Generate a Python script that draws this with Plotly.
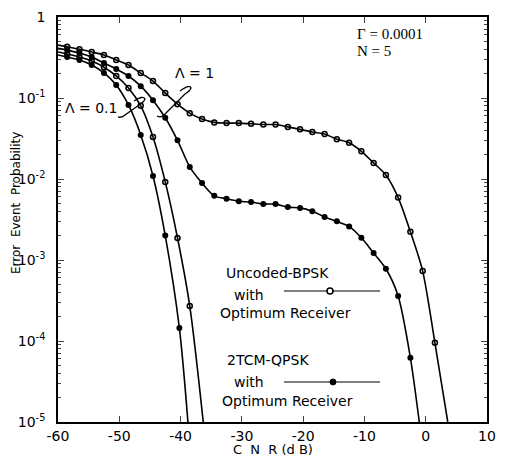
import plotly.graph_objects as go

# ---- data ----
xA = [-58.5,-56.5,-54.5,-52.5,-50.5,-48.5,-46.5,-44.5,-42.5,-40.5,-38.5,-36.5,-34.5,-32.5,-30.5,
      -28.5,-26.5,-24.5,-22.5,-20.5,-18.5,-16.5,-14.5,-12.5,-10.5,-8.5,-6.5,-4.5,-2.5,-0.5,1.5]
yA = [0.43,0.40,0.37,0.34,0.295,0.255,0.203,0.162,0.115,0.084,0.065,0.055,0.050,0.049,0.049,
      0.048,0.047,0.047,0.044,0.041,0.038,0.036,0.031,0.028,0.022,0.0158,0.0112,0.0059,0.00223,0.00073,9.5e-5]
lineA_x = [-60] + xA + [3.6]
lineA_y = [0.45] + yA + [1e-5]

xB = [-58.5,-56.5,-54.5,-52.5,-50.5,-48.5,-46.5,-44.5,-42.5,-40.5,-38.5,-36.5,-34.5,-32.5,-30.5,
      -28.5,-26.5,-24.5,-22.5,-20.5,-18.5,-16.5,-14.5,-12.5,-10.5,-8.5,-6.5,-4.5,-2.5]
yB = [0.39,0.36,0.32,0.27,0.228,0.187,0.14,0.094,0.057,0.030,0.0141,0.0089,0.0062,0.0057,0.0053,
      0.0052,0.0049,0.0049,0.0045,0.0044,0.0040,0.0034,0.0030,0.0026,0.00188,0.00122,0.00078,0.00036,6.2e-5]
lineB_x = [-60] + xB + [-1.05]
lineB_y = [0.41] + yB + [1e-5]

xC = [-58.5,-56.5,-54.5,-52.5,-50.5,-48.5,-46.5,-44.5,-42.5,-40.5,-38.5]
yC = [0.35,0.32,0.286,0.24,0.187,0.133,0.080,0.033,0.0092,0.00187,2.7e-4]
lineC_x = [-60] + xC + [-36.3]
lineC_y = [0.37] + yC + [1e-5]

xD = [-58.5,-56.5,-54.5,-52.5,-50.5,-48.5,-46.5,-44.5,-42.5,-40.2]
yD = [0.32,0.294,0.255,0.204,0.145,0.082,0.035,0.0109,0.0020,1.45e-4]
lineD_x = [-60] + xD + [-38.8]
lineD_y = [0.34] + yD + [1e-5]

x_ticks = [-60,-50,-40,-30,-20,-10,0,10]
x_ticktext = ["-60","-50","-40","-30","-20","-10","0","10"]
y_ticks = [1e-5,1e-4,1e-3,1e-2,1e-1,1]
y_ticktext = ["10<sup>-5</sup>","10<sup>-4</sup>","10<sup>-3</sup>","10<sup>-2</sup>","10<sup>-1</sup>","1"]

# ---- layout helpers ----
# The page body has an 8px default margin, so the figure is drawn 8px in from the window corner.
OFF = 8
PAGE_W, PAGE_H = 510, 459
W, H = PAGE_W - OFF, PAGE_H - OFF
# plot area in page pixels
L, R, T, B = 58, 487, 17, 422
def px(x): return (x - L) / (R - L)
def py(y): return 1 - (y - T) / (B - T)

FONT = "DejaVu Sans"
fig = go.Figure()

for lx, ly in [(lineA_x, lineA_y), (lineB_x, lineB_y), (lineC_x, lineC_y), (lineD_x, lineD_y)]:
    fig.add_trace(go.Scatter(x=lx, y=ly, mode="lines",
                             line=dict(color="black", width=1.6, shape="spline", smoothing=0.8),
                             showlegend=False, hoverinfo="skip"))

for mx, my in [(xA, yA), (xC, yC)]:
    fig.add_trace(go.Scatter(x=mx, y=my, mode="markers",
                             marker=dict(symbol="circle-open", size=5, color="black", line=dict(width=1.5)),
                             showlegend=False))
for mx, my in [(xB, yB), (xD, yD)]:
    fig.add_trace(go.Scatter(x=mx, y=my, mode="markers",
                             marker=dict(symbol="circle", size=6, color="black"),
                             showlegend=False))

shapes = []
# legend sample lines
for yy in (291, 382):
    shapes.append(dict(type="line", xref="paper", yref="paper", x0=px(284), x1=px(380), y0=py(yy), y1=py(yy),
                       line=dict(color="black", width=1.2)))
shapes.append(dict(type="circle", xref="paper", yref="paper", xsizemode="pixel", ysizemode="pixel",
                   xanchor=px(330), yanchor=py(291), x0=-3, x1=3, y0=-3, y1=3,
                   line=dict(color="black", width=1.6), fillcolor="white"))
shapes.append(dict(type="circle", xref="paper", yref="paper", xsizemode="pixel", ysizemode="pixel",
                   xanchor=px(333), yanchor=py(382), x0=-3, x1=3, y0=-3, y1=3,
                   line=dict(color="black", width=1), fillcolor="black"))

def path(pts):
    cmds = []
    for c, p in pts:
        cmds.append(c + " " + " ".join(f"{px(p[i]):.4f},{py(p[i+1]):.4f}" for i in range(0, len(p), 2)))
    return " ".join(cmds)

p1 = path([("M", (180, 91)), ("Q", (190, 84, 191, 88)), ("Q", (190, 91, 185, 94)),
           ("L", (164, 115)), ("Q", (161, 118, 157, 116))])
p2 = path([("M", (134, 101)), ("Q", (143, 95, 145, 99)), ("Q", (144, 102, 139, 105)),
           ("L", (125, 115)), ("Q", (122, 118, 118, 117))])
for p in (p1, p2):
    shapes.append(dict(type="path", xref="paper", yref="paper", path=p, line=dict(color="black", width=1.3)))

ann = []
def text(t, x, y, size=14, xanchor="center", family=FONT, angle=0):
    ann.append(dict(text=t, x=px(x), y=py(y), xref="paper", yref="paper", showarrow=False,
                    xanchor=xanchor, yanchor="middle", textangle=angle,
                    font=dict(family=family, size=size, color="black")))

text("Γ = 0.0001", 355, 34, size=15, xanchor="left", family="Liberation Serif")
text("N = 5", 355, 51, size=15, xanchor="left", family="Liberation Serif")
text("Λ = 1", 194, 73, size=14)
text("Λ = 0.1", 91, 108, size=14)
text("Uncoded-BPSK", 277, 273)
text("with", 249, 295)
text("Optimum Receiver", 285, 313)
text("2TCM-QPSK", 268, 360)
text("with", 249, 382)
text("Optimum Receiver", 287, 401)
text("C  N  R (d B)", 273, 449, size=13)
text("Error  Event  Probability", 16, 203, size=12, angle=-90)

fig.update_layout(
    width=W, height=H,
    margin=dict(l=L - OFF, r=PAGE_W - R, t=T - OFF, b=PAGE_H - B, pad=0, autoexpand=False),
    paper_bgcolor="white", plot_bgcolor="white",
    shapes=shapes, annotations=ann,
    font=dict(family=FONT, size=14, color="black"),
    xaxis=dict(range=[-60, 10], tickvals=x_ticks, ticktext=x_ticktext, ticks="inside", ticklen=6, tickwidth=1.3,
               showline=True, linecolor="black", linewidth=1.6, mirror="ticks", showgrid=False,
               zeroline=False, tickfont=dict(family=FONT, size=14), ticklabelstandoff=0, automargin=False),
    yaxis=dict(type="log", range=[-5, 0], tickvals=y_ticks, ticktext=y_ticktext,
               ticks="inside", ticklen=6, tickwidth=1.3,
               minor=dict(ticks="inside", ticklen=3, tickwidth=1, showgrid=False, dtick="D1"),
               showline=True, linecolor="black", linewidth=1.6, mirror="ticks", showgrid=False,
               zeroline=False, tickfont=dict(family=FONT, size=14), ticklabelstandoff=8, automargin=False),
)

fig.write_html("out.html")
